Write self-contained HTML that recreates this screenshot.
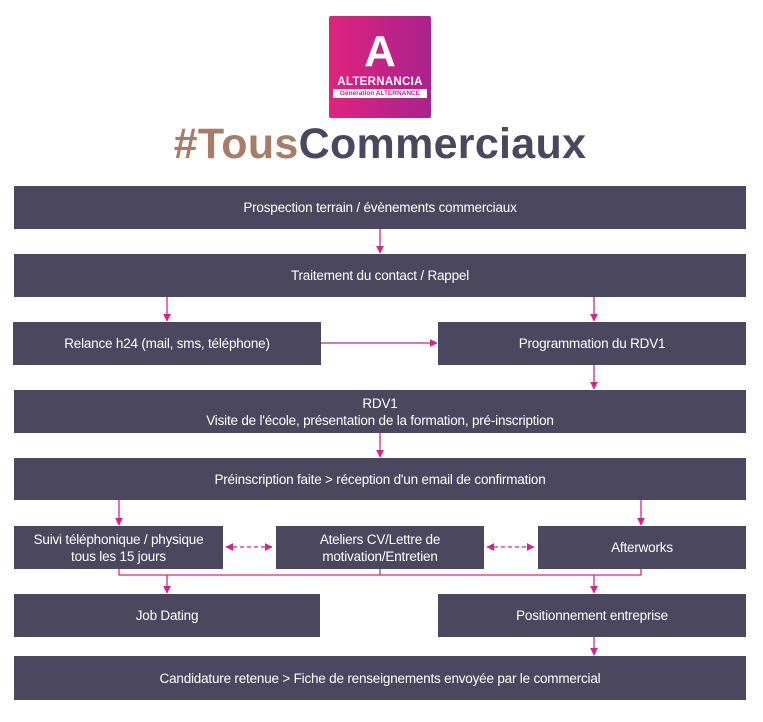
<!DOCTYPE html>
<html><head><meta charset="utf-8"><style>
body{margin:0;width:763px;height:722px;background:#fff;position:relative;font-family:"Liberation Sans",sans-serif;overflow:hidden}
.b{position:absolute;background:#4b475e;color:#fff;display:flex;align-items:center;justify-content:center;text-align:center;font-size:13.5px;line-height:17px;letter-spacing:-0.2px}
svg{position:absolute;left:0;top:0}
</style></head><body>
<div style="position:absolute;left:329px;top:16px;width:102px;height:102px;background:linear-gradient(90deg,#e0237f,#a8238d);border-radius:2px">
<div style="position:absolute;left:0;width:102px;top:14px;text-align:center;color:#fff;font-weight:bold;font-size:44px;line-height:44px">A</div>
<div style="position:absolute;left:0;width:102px;top:60px;text-align:center;color:#fff;font-weight:bold;font-size:11.5px;letter-spacing:0.3px">ALTERNANCIA</div>
<div style="position:absolute;left:4px;width:94px;top:73px;height:9px;background:#fff;color:#c02385;font-size:6.5px;line-height:9px;text-align:center;font-weight:bold;white-space:nowrap;overflow:hidden">Génération ALTERNANCE</div>
</div>
<div style="position:absolute;left:120px;top:120px;width:520px;text-align:center;font-weight:bold;font-size:43px;line-height:48px;letter-spacing:0.3px;white-space:nowrap"><span style="color:#a77d68">#Tous</span><span style="color:#4b475e">Commerciaux</span></div>
<div class="b" style="left:14px;top:186px;width:732px;height:43px">Prospection terrain / évènements commerciaux</div>
<div class="b" style="left:14px;top:254px;width:732px;height:43px">Traitement du contact / Rappel</div>
<div class="b" style="left:13px;top:322px;width:308px;height:43px">Relance h24 (mail, sms, téléphone)</div>
<div class="b" style="left:438px;top:322px;width:308px;height:43px">Programmation du RDV1</div>
<div class="b" style="left:14px;top:390px;width:732px;height:43px">RDV1<br>Visite de l'école, présentation de la formation, pré-inscription</div>
<div class="b" style="left:14px;top:458px;width:732px;height:42px">Préinscription faite &gt; réception d'un email de confirmation</div>
<div class="b" style="left:14px;top:526px;width:209px;height:43px">Suivi téléphonique / physique<br>tous les 15 jours</div>
<div class="b" style="left:276px;top:526px;width:208px;height:43px">Ateliers CV/Lettre de<br>motivation/Entretien</div>
<div class="b" style="left:538px;top:526px;width:208px;height:43px">Afterworks</div>
<div class="b" style="left:14px;top:594px;width:306px;height:43px">Job Dating</div>
<div class="b" style="left:438px;top:594px;width:308px;height:43px">Positionnement entreprise</div>
<div class="b" style="left:14px;top:656px;width:732px;height:44px">Candidature retenue &gt; Fiche de renseignements envoyée par le commercial</div>
<svg width="763" height="722">
<defs><marker id="a" viewBox="0 0 10 10" refX="9" refY="5" markerWidth="6" markerHeight="6" orient="auto-start-reverse"><path d="M0 0L10 5L0 10z" fill="#d6258a"/></marker></defs>
<g stroke="#d6258a" stroke-width="1.3" fill="none">
<path d="M380 229V253" marker-end="url(#a)"/>
<path d="M167 297V321" marker-end="url(#a)"/>
<path d="M594 297V321" marker-end="url(#a)"/>
<path d="M321 343H437" marker-end="url(#a)" stroke="#b03070"/>
<path d="M594 365V389" marker-end="url(#a)"/>
<path d="M380 433V457" marker-end="url(#a)"/>
<path d="M119 500V525" marker-end="url(#a)"/>
<path d="M641 500V525" marker-end="url(#a)"/>
<path d="M226 547H272" stroke-dasharray="4 3" marker-start="url(#a)" marker-end="url(#a)"/>
<path d="M487 547H534" stroke-dasharray="4 3" marker-start="url(#a)" marker-end="url(#a)"/>
<path d="M119 569V575H641V569M380 569V575"/>
<path d="M167 575V593" marker-end="url(#a)"/>
<path d="M594 575V593" marker-end="url(#a)"/>
<path d="M594 637V655" marker-end="url(#a)"/>
</g></svg>
</body></html>
